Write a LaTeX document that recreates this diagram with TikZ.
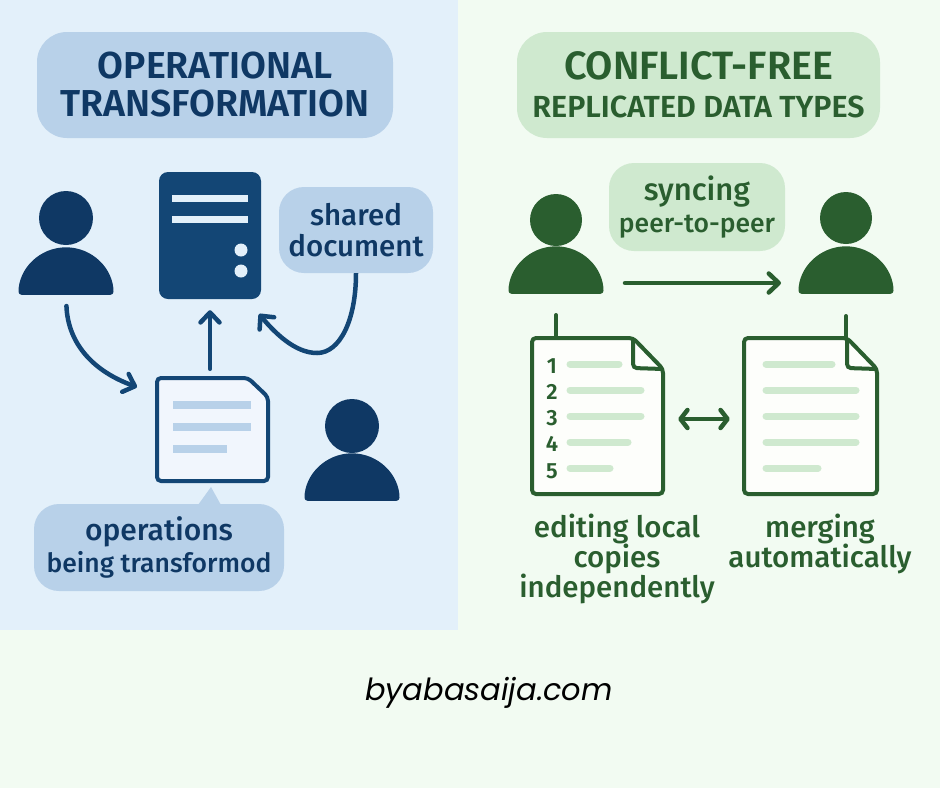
\documentclass[tikz,border=0pt]{standalone}
\usepackage{fontspec}
\setmainfont{Noto Sans}
\newfontfamily\labelfont{Fira Sans Medium}
\newfontfamily\titlefont{Fira Sans SemiBold}
\newfontfamily\sitefont{Poppins Italic}
\usepackage{tikz}
\usetikzlibrary{calc,positioning,arrows.meta,shapes.geometric}

\definecolor{pagegreen}{HTML}{F2FBF2}
\definecolor{panelblue}{HTML}{E3F0FA}
\definecolor{bubbleblue}{HTML}{B8D1E9}
\definecolor{bubblegreen}{HTML}{CFE9CF}
\definecolor{inkblue}{HTML}{134675}
\definecolor{navy}{HTML}{0F3864}
\definecolor{inkgreen}{HTML}{2A5E2F}
\definecolor{docblue}{HTML}{F1F6FD}
\definecolor{docgreen}{HTML}{FDFEFB}

\tikzset{
    bubble/.style={rectangle, rounded corners=25, inner sep=0pt, align=center},
    blueb/.style={bubble, fill=bubbleblue, text=navy},
    greenb/.style={bubble, fill=bubblegreen, text=inkgreen},
    head/.style={circle, inner sep=0pt, minimum size=54},
    body/.style={semicircle, inner sep=0pt, minimum width=95, anchor=chord center, rounded corners=3},
    navyp/.style={fill=navy},
    greenp/.style={fill=inkgreen},
    barb/.style={line width=4.5, line cap=round, -{Straight Barb[round,length=10,width=19,line width=4.5]}},
    bluebar/.style={line width=8, line cap=butt, draw=bubbleblue},
    greenbar/.style={line width=7, line cap=round, draw=bubblegreen},
    rownum/.style={text=inkgreen, inner sep=0pt, font=\fontsize{22}{22}\titlefont},
    caption/.style={text=inkgreen, align=center, inner sep=0pt, font=\fontsize{29.5}{30}\labelfont}
}

\begin{document}
\begin{tikzpicture}[x=1pt, y=-1pt]
    \useasboundingbox (0,0) rectangle (940,788);
    \fill[pagegreen] (0,0) rectangle (940,788);
    \fill[panelblue] (0,0) rectangle (458,630);

    % left side
    \node[blueb, minimum width=356, minimum height=106, rounded corners=30, font=\fontsize{37.5}{38}\titlefont] (otitle) at (215,85)
        {OPERATIONAL\\TRANSFORMATION};

    \node[head, navyp] (userAhead) at (66,218) {};
    \node[body, navyp] (userAbody) at (66,295) {};
    \node[head, navyp] (userBhead) at (352,426) {};
    \node[body, navyp] (userBbody) at (352,501) {};

    \node[rectangle, rounded corners=9, fill=inkblue, minimum width=102, minimum height=127] (server) at (210,235.5) {};
    \draw[line width=7, draw=panelblue] (172,198) -- (248,198);
    \draw[line width=7, draw=panelblue] (172,219) -- (248,219);
    \node[circle, fill=panelblue, inner sep=0pt, minimum size=13] (ledA) at (241,250) {};
    \node[circle, fill=panelblue, inner sep=0pt, minimum size=13] (ledB) at (241,271) {};

    \node[blueb, minimum width=154, minimum height=86, font=\fontsize{29.5}{31}\labelfont] (shared) at (356,230)
        {shared\\document};

    \node[minimum width=111, minimum height=103, inner sep=0pt] (opsdoc) at (212.5,429.5) {};
    \draw[line width=4, draw=inkblue, fill=docblue, rounded corners=4]
        (157,378) -- (248,378) -- (268,397) -- (268,481) -- (157,481) -- cycle;
    \draw[bluebar] (173,404.5) -- (251,404.5);
    \draw[bluebar] (173,427) -- (251,427);
    \draw[bluebar] (173,449) -- (227,449);

    \fill[bubbleblue] (198,505) -- (211,487) -- (221,505) -- cycle;
    \node[blueb, minimum width=250, minimum height=87, font=\fontsize{30}{32}\labelfont] (opsnote) at (159,547.5)
        {operations\\\fontsize{26.5}{32}\selectfont being transformod};

    \coordinate (opsin) at (137,387);
    \coordinate (serverin) at (259,314);
    \coordinate (sharedturn) at (317,353);
    \draw[barb, draw=inkblue, shorten <=11] (userAbody.chord center) .. controls (68,345) and (95,372) .. (opsin);
    \draw[barb, draw=inkblue, shorten <=9, shorten >=11] (server.south |- opsdoc.north) -- (server.south);
    \draw[line width=4.5, draw=inkblue] (shared.south) .. controls (356,320) and (340,353) .. (sharedturn);
    \draw[barb, draw=inkblue] (sharedturn) .. controls (295,353) and (275,333) .. (serverin);

    % right side
    \node[greenb, minimum width=363, minimum height=106, rounded corners=30, font=\fontsize{39.5}{38}\titlefont] (ctitle) at (698.5,85)
        {CONFLICT-FREE\\\fontsize{30.5}{38}\selectfont REPLICATED DATA TYPES};

    \node[head, greenp, minimum size=52] (userChead) at (556,220) {};
    \node[body, greenp] (userCbody) at (556,294) {};
    \node[head, greenp, minimum size=52] (userDhead) at (846,218) {};
    \node[body, greenp] (userDbody) at (846,294) {};

    \node[greenb, minimum width=176, minimum height=88, font=\fontsize{31}{32}\labelfont] (syncnote) at (697,207)
        {syncing\\\fontsize{26.5}{32}\selectfont peer-to-peer};

    \coordinate (syncfrom) at (625,283);
    \coordinate (syncto) at (781,283);
    \draw[barb, draw=inkgreen] (syncfrom) -- (syncto);

    \node[minimum width=131, minimum height=156, inner sep=0pt] (localdoc) at (597.5,416) {};
    \node[minimum width=133, minimum height=156, inner sep=0pt] (mergedoc) at (810.5,416) {};
    \draw[line width=4, draw=inkgreen, fill=docgreen, rounded corners=4]
        (532,338) -- (633,338) -- (663,369) -- (663,494) -- (532,494) -- cycle;
    \draw[line width=4, draw=inkgreen, fill=docgreen, rounded corners=4]
        (744,338) -- (847,338) -- (877,369) -- (877,494) -- (744,494) -- cycle;
    \draw[line width=4, draw=inkgreen, rounded corners=4] (633,338) -- (633,368) -- (663,369);
    \draw[line width=4, draw=inkgreen, rounded corners=4] (847,338) -- (847,368) -- (877,369);

    \draw[line width=4, line cap=round, draw=inkgreen, shorten <=21] (userCbody.chord center) -- (userCbody.chord center |- localdoc.north);
    \draw[line width=4, line cap=round, draw=inkgreen, shorten <=22] (userDbody.chord center) -- (userDbody.chord center |- mergedoc.north);

    \node[rownum] (numA) at (552,366) {1};
    \node[rownum] (numB) at (552,392) {2};
    \node[rownum] (numC) at (552,418) {3};
    \node[rownum] (numD) at (552,444) {4};
    \node[rownum] (numE) at (552,471) {5};

    \draw[greenbar] (570,364) -- (619,364);
    \draw[greenbar] (570,390) -- (641,390);
    \draw[greenbar] (570,416) -- (641,416);
    \draw[greenbar] (570,442) -- (628,442);
    \draw[greenbar] (570,468) -- (610,468);

    \draw[greenbar] (766,364) -- (832,364);
    \draw[greenbar] (766,390) -- (856,390);
    \draw[greenbar] (766,416) -- (856,416);
    \draw[greenbar] (766,442) -- (856,442);
    \draw[greenbar] (766,468) -- (818,468);

    \draw[line width=4.5, line cap=round, draw=inkgreen, {Straight Barb[round,length=7,width=18,line width=4.5]}-{Straight Barb[round,length=7,width=18,line width=4.5]}, shorten <=15, shorten >=14]
        ([yshift=-3]localdoc.east) -- ([yshift=-3]mergedoc.west);

    \node[caption] (editcap) at (617,559)
        {editing local\\copies\\independently};
    \node[caption] (mergecap) at (820,544)
        {merging\\automatically};

    \node[inner sep=0pt, text=black, font=\fontsize{30.5}{34}\sitefont] (site) at (489,693) {byabasaija.com};
\end{tikzpicture}
\end{document}
